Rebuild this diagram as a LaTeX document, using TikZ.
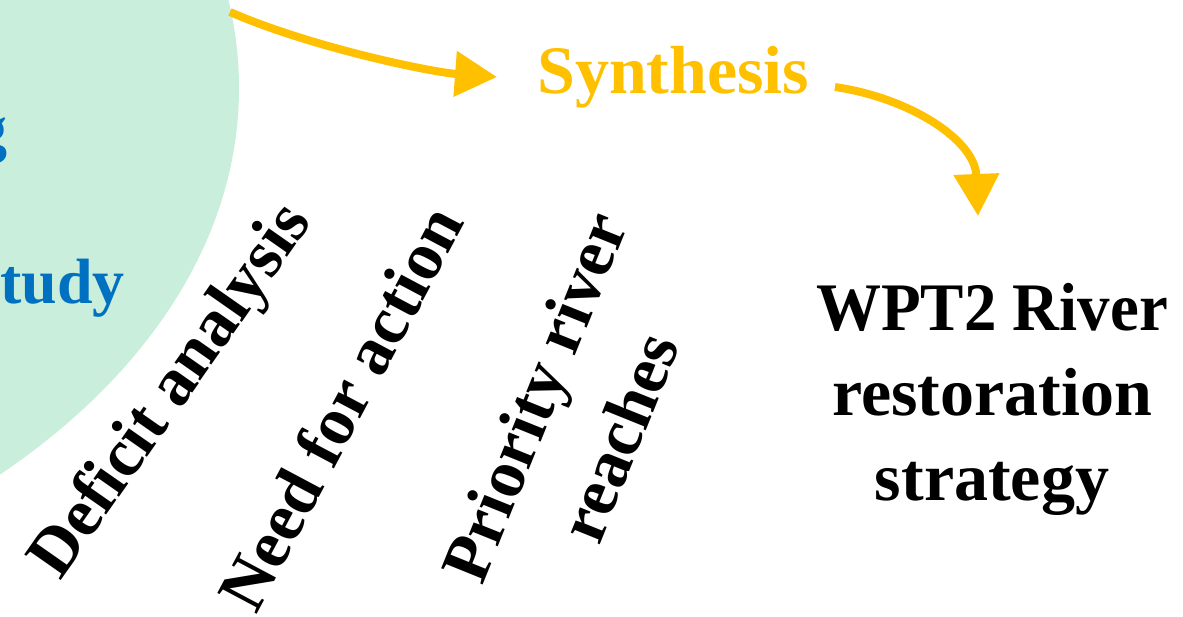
\documentclass[tikz,border=0pt]{standalone}
\usepackage{fontspec}
\usepackage{graphicx}
\setmainfont{Liberation Serif}
\usetikzlibrary{arrows.meta}
\definecolor{bubble}{RGB}{201,238,219}
\definecolor{studyblue}{RGB}{0,112,192}
\definecolor{synyellow}{RGB}{255,192,0}
\begin{document}
\begin{tikzpicture}[x=1pt,y=-1pt,
  bigtxt/.style={font=\fontsize{68}{82}\selectfont\bfseries, inner sep=0pt, text=black},
  bluetxt/.style={font=\fontsize{64}{78}\selectfont\bfseries, inner sep=0pt, text=studyblue},
  yarrow/.style={draw=synyellow, line width=8pt, -{Triangle[length=42pt,width=44pt]}}]
\useasboundingbox (0,0) rectangle (1183,616);
\clip (0,0) rectangle (1183,616);
% bubble (study area)
\fill[bubble] (-600,88) ellipse [x radius=839pt, y radius=553pt];
\node[bluetxt, anchor=base east] (gtxt) at (8,150) {g};
\node[bluetxt, anchor=base east] (studytxt) at (125,303) {tudy};
% synthesis
\node[bigtxt, text=synyellow, anchor=base west] (syn) at (537,93) {Synthesis};
% strategy
\node[bigtxt, anchor=base] (w1) at (992,330) {\scalebox{0.955}[1]{WPT2 River}};
\node[bigtxt, anchor=base] (w2) at (992,415) {restoration};
\node[bigtxt, anchor=base] (w3) at (992,500) {strategy};
% rotated labels
\node[bigtxt, anchor=base west, rotate=55] (def) at (60,582) {Deficit analysis};
\node[bigtxt, anchor=base west, rotate=62] (need) at (256,616) {Need for action};
\node[bigtxt, anchor=base west, rotate=68] (prio) at (482,587) {Priority river};
\node[bigtxt, anchor=base west, rotate=68] (reach) at (599,547) {reaches};
% connectors
\coordinate (a1s) at (230,12);
\coordinate (a1e) at (497,77);
\coordinate (a2s) at (835,87);
\coordinate (a2e) at (978,216);
\draw[yarrow] (a1s) .. controls (310,47) and (430,72) .. (a1e);
\draw[yarrow] (a2s) .. controls (910,98) and (975,140) .. (a2e);
\end{tikzpicture}
\end{document}
